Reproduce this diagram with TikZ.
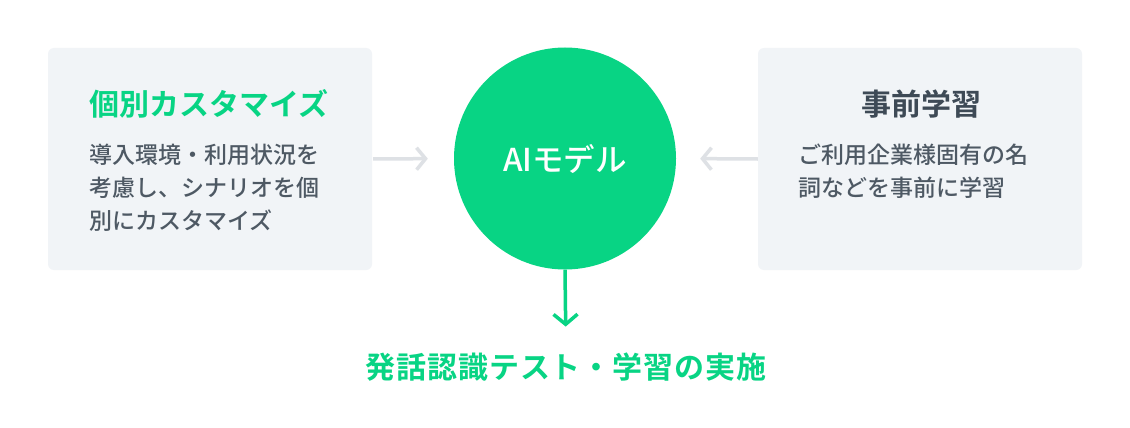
\documentclass[tikz,border=0pt]{standalone}
\usepackage{fontspec}
\setmainfont{Noto Sans CJK JP}[BoldFont={* Bold}]
\newfontfamily\mediumcjk{Noto Sans CJK JP Medium}
\usetikzlibrary{arrows.meta}
\definecolor{grn}{HTML}{08D484}
\definecolor{boxbg}{HTML}{F1F4F7}
\definecolor{arrgray}{HTML}{DEE1E5}
\definecolor{txtgray}{HTML}{4E5964}
\definecolor{ttlgray}{HTML}{3E4A56}
\begin{document}
\begin{tikzpicture}[x=1pt,y=-1pt,
  panel/.style={fill=boxbg, rounded corners=6pt, minimum width=324pt, minimum height=222pt, inner sep=0pt, draw=none},
  core/.style={circle, fill=grn, minimum size=222pt, inner sep=0pt, text=white, font=\mediumcjk\fontsize{31.5}{36}\selectfont},
  title/.style={inner sep=0pt, font=\fontsize{30}{36}\selectfont\bfseries},
  bodytext/.style={inner sep=0pt, align=left, text=txtgray, font=\mediumcjk\fontsize{23}{33}\selectfont},
  grayarrow/.style={draw=arrgray, line width=3.5pt, -{Straight Barb[length=9pt,width=22pt,line width=3.5pt]}},
  greenarrow/.style={draw=grn, line width=3.5pt, -{Straight Barb[length=10pt,width=24pt,line width=3.5pt]}},
  goaltext/.style={inner sep=0pt, text=grn, font=\fontsize{30}{36}\selectfont\bfseries\addfontfeature{LetterSpace=3}}
]
\useasboundingbox (0,0) rectangle (1130,428);
\fill[white] (0,0) rectangle (1130,428);
\node[panel] (lbox) at (210,159) {};
\node[panel] (rbox) at (920,159) {};
\node[core] (ai) at (565,158.5) {AIモデル};
\node[title, text=grn, anchor=west] (ltitle) at (89,104) {個別カスタマイズ};
\node[bodytext, anchor=north west] (ldesc) at (89,144) {導入環境・利用状況を\\考慮し、シナリオを個\\別にカスタマイズ};
\node[title, text=ttlgray] (rtitle) at (921,104) {事前学習};
\node[bodytext, anchor=north west] (rdesc) at (798,144) {ご利用企業様固有の名\\詞などを事前に学習};
\node[goaltext] (goal) at (566,367) {発話認識テスト・学習の実施};
\draw[grayarrow, shorten <=1pt, shorten >=26pt] (lbox.east) -- (ai.west);
\draw[grayarrow, shorten <=0pt, shorten >=24pt] (rbox.west) -- (ai.east);
\draw[greenarrow, shorten >=26pt] (ai.south) -- (goal.north);
\end{tikzpicture}
\end{document}
